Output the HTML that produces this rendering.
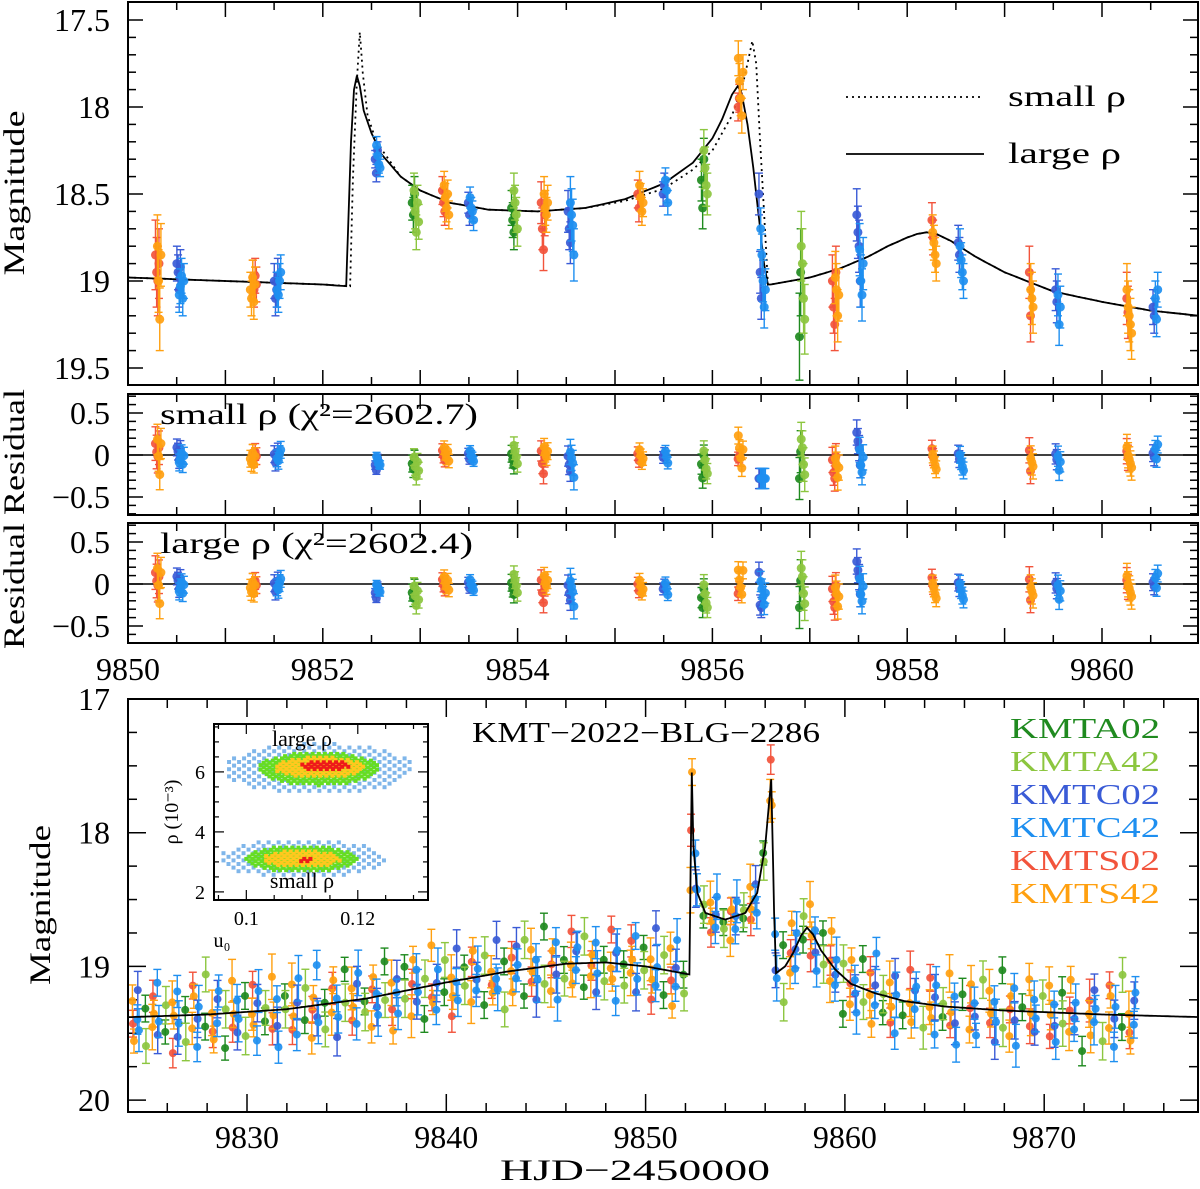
<!DOCTYPE html>
<html><head><meta charset="utf-8"><title>KMT-2022-BLG-2286</title>
<style>
html,body{margin:0;padding:0;background:#fff;}
svg{display:block;font-family:"Liberation Serif",serif;}
</style></head>
<body>
<svg id="fig" xmlns="http://www.w3.org/2000/svg" width="1200" height="1189" viewBox="0 0 1200 1189">
<defs>
<clipPath id="cTop"><rect x="129" y="3" width="1069" height="381"/></clipPath>
<clipPath id="cR1"><rect x="129" y="395" width="1069" height="119"/></clipPath>
<clipPath id="cR2"><rect x="129" y="524" width="1069" height="118"/></clipPath>
<clipPath id="cBot"><rect x="129" y="700" width="1069" height="411"/></clipPath>
<clipPath id="cIn"><rect x="215" y="725" width="212" height="174"/></clipPath>
</defs>
<g id="layer"></g>
</svg>
<script>
// ---------- data ----------
const obsNames = ["KMTA02","KMTA42","KMTC02","KMTC42","KMTS02","KMTS42"];
const obsColors = ["#1f8a1f","#8cc63f","#3a5bd6","#1e8ff0","#f2543c","#ffa010"];

const largeT = [9850,9851,9852,9852.24,9852.26,9852.29,9852.32,9852.35,9852.38,9852.42,9852.5,9852.6,9852.8,9853.0,9853.3,9853.7,9854.2,9854.7,9855.1,9855.5,9855.8,9856.0,9856.1,9856.2,9856.26,9856.3,9856.36,9856.42,9856.48,9856.53,9856.57,9856.6,9857.0,9857.3,9857.6,9857.8,9858.0,9858.1,9858.2,9858.3,9858.45,9858.7,9859.0,9859.5,9860.0,9860.5,9861.0];
const largeM = [18.98,19.0,19.02,19.03,18.7,18.2,17.9,17.82,17.88,18.02,18.15,18.27,18.4,18.48,18.55,18.59,18.6,18.58,18.53,18.44,18.32,18.18,18.07,17.93,17.88,17.92,18.1,18.35,18.65,18.9,19.02,19.02,18.98,18.93,18.86,18.8,18.75,18.73,18.72,18.73,18.77,18.86,18.95,19.06,19.12,19.17,19.2];
const smallT = [9850,9851,9852,9852.28,9852.31,9852.35,9852.38,9852.41,9852.46,9852.55,9852.8,9853.0,9853.3,9853.7,9854.2,9854.7,9855.1,9855.5,9855.8,9856.0,9856.2,9856.3,9856.36,9856.41,9856.45,9856.49,9856.53,9856.57,9856.6,9857.0,9857.3,9857.6,9857.8,9858.0,9858.1,9858.2,9858.3,9858.45,9858.7,9859.0,9859.5,9860.0,9860.5,9861.0];
const smallM = [18.98,19.0,19.02,19.03,18.4,17.85,17.57,17.8,18.05,18.2,18.4,18.48,18.55,18.59,18.6,18.58,18.54,18.47,18.36,18.25,18.05,17.9,17.75,17.62,17.75,18.2,18.6,19.02,19.02,18.98,18.93,18.86,18.8,18.75,18.73,18.72,18.73,18.77,18.86,18.95,19.06,19.12,19.17,19.2];

const topT = [9850.3,9850.32,9850.52,9850.55,9851.3,9851.28,9851.52,9851.55,9852.55,9852.57,9852.93,9852.96,9853.24,9853.27,9853.5,9853.53,9853.95,9853.98,9854.26,9854.29,9854.53,9854.56,9855.24,9855.27,9855.5,9855.53,9855.9,9855.93,9856.27,9856.29,9856.49,9856.52,9856.9,9856.93,9857.25,9857.28,9857.5,9857.53,9858.26,9858.28,9858.53,9858.56,9859.26,9859.28,9859.53,9859.56,9860.26,9860.28,9860.53,9860.56];
const topObs = [4,5,2,3,4,5,2,3,2,3,0,1,4,5,2,3,0,1,4,5,2,3,4,5,2,3,0,1,4,5,2,3,0,1,4,5,2,3,4,5,2,3,4,5,2,3,4,5,2,3];
const topMags = [
 [18.85,18.95,19.0,18.9],[18.8,19.0,19.22,18.85],[18.9,18.95,19.05,18.92],[19.08,19.03,18.97,19.1,19.0],
 [18.98,19.05,18.97,19.02],[19.05,19.1,18.98,19.12,19.02],[19.0,19.1,19.05,18.97],[19.05,19.08,19.0,18.95],
 [18.3,18.38,18.25],[18.22,18.28,18.33,18.35],[18.55,18.62,18.5],[18.48,18.6,18.72,18.55,18.66],
 [18.48,18.55,18.6],[18.45,18.52,18.58,18.5,18.62],[18.55,18.62],[18.52,18.58,18.6,18.65],
 [18.58,18.65,18.72],[18.48,18.55,18.62,18.7],[18.55,18.7,18.82,18.62],[18.5,18.58,18.62,18.55],
 [18.6,18.7,18.78],[18.55,18.62,18.68,18.85],[18.5,18.58],[18.45,18.52,18.6,18.55],
 [18.5,18.45],[18.42,18.48,18.55],[18.42,18.58,18.3],[18.25,18.35,18.45,18.5],
 [18.0,17.95],[17.72,17.85,17.95,18.05,17.8],[18.5,18.95,19.1],[18.7,18.85,19.0,19.15,19.05],
 [19.32,18.95],[18.8,18.9,19.1,19.22],[19.0,19.15,19.25,18.95],[18.98,19.05,19.2,19.08],
 [18.62,18.72,18.8,19.0],[18.82,19.0,19.08,18.9],[18.65,18.75],[18.72,18.78,18.85,18.9],
 [18.78,18.85],[18.8,18.88,18.95,19.0],[18.95,19.2],[19.05,19.1,19.15],
 [19.05,19.12],[19.08,19.25,19.15],[19.1,19.18],[19.05,19.15,19.2,19.25,19.3],
 [19.15,19.2],[19.1,19.22,19.05]];
const topErr = [0.2,0.18,0.1,0.1,0.1,0.1,0.1,0.1,0.05,0.05,0.1,0.1,0.08,0.08,0.06,0.06,0.1,0.1,0.12,0.1,0.12,0.15,0.08,0.08,0.07,0.07,0.12,0.12,0.08,0.1,0.12,0.12,0.25,0.2,0.15,0.15,0.15,0.15,0.1,0.1,0.1,0.1,0.15,0.15,0.12,0.12,0.15,0.15,0.1,0.1];

const botT = [9824,9828,9832,9836,9840,9843,9846,9848,9850,9852.2,9852.25,9852.32,9852.4,9852.6,9853,9854,9855,9855.6,9856,9856.3,9856.45,9856.55,9857,9857.4,9857.8,9858.1,9858.4,9858.8,9859.5,9860.3,9861.5,9863,9865,9868,9873,9878];
const botM = [19.38,19.36,19.32,19.24,19.12,19.04,18.98,18.97,19.0,19.06,18.4,17.55,18.1,18.45,18.6,18.65,18.6,18.45,18.1,17.6,18.6,19.05,19.0,18.9,18.77,18.71,18.76,18.88,19.02,19.13,19.2,19.26,19.3,19.33,19.36,19.38];
const botNights = [9824,9825,9826,9827,9828,9829,9830,9831,9832,9833,9834,9835,9836,9837,9838,9839,9840,9841,9842,9843,9844,9845,9846,9847,9848,9849,9850,9851,9852,9853,9854,9855,9856,9857,9858,9859,9860,9861,9862,9863,9864,9865,9866,9867,9868,9869,9870,9871,9872,9873,9874];
const botObsOrder = [4,5,5,2,3,3,0,1];
const botObsPhase = [0.28,0.25,0.33,0.52,0.5,0.58,0.9,0.93];
const botResid = [0.05,-0.12,0.18,-0.2,0.02,0.1,-0.06,0.22,-0.15,0.08,-0.02,0.14,-0.25,0.04,0.12,-0.08,0.28,-0.1,0.0,0.16,-0.18,0.06,-0.04,0.2,-0.22,0.1,-0.14,0.03,0.24,-0.06,0.09,-0.3,0.13,-0.01,0.19,-0.11,0.07,-0.17,0.26,-0.03,0.11,-0.24,0.01,0.15,-0.09];
const botErrs = [0.1,0.12,0.09,0.14,0.11,0.16,0.1,0.13,0.12,0.17,0.1,0.14];

const topYTicks = [17.5,18,18.5,19,19.5];
const topYLabels = ["17.5","18","18.5","19","19.5"];
const topXTicks = [9850,9852,9854,9856,9858,9860];
const resTicks = [0.5,0,-0.5];
const resLabels = ["0.5","0","\u22120.5"];
const botYTicks = [17,18,19,20];
const botXTicks = [9830,9840,9850,9860,9870];

const inCu = [0.113,0.113,0.113,0.114, 0.110,0.110,0.110,0.1105];
const inCr = [6.1,6.1,6.15,6.2, 3.1,3.1,3.1,3.05];
const inWu = [0.017,0.011,0.008,0.0045, 0.015,0.010,0.007,0.0012];
const inWr = [0.85,0.55,0.35,0.18, 0.65,0.45,0.28,0.1];
const inCol = ["#7fb6ea","#66dd22","#ffc81e","#ee1a1a","#7fb6ea","#66dd22","#ffc81e","#ee1a1a"];

// ---------- scales ----------
const xT = t => 128 + (t - 9850) * 97.4;
const yT = m => 20 + (m - 17.5) * 174;
const yR1 = r => 455 - r * 84;
const yR2 = r => 584 - r * 84;
const xB = t => 247 + (t - 9830) * 19.93;
const yB = m => 699 + (m - 17) * 133.7;
const xI = u => 214 + (u - 0.0942) / 0.0384 * 214;
const yI = r => 900 - (r - 1.73) * 30;

function interp(T, M, t){
  if (t <= T[0]) return M[0];
  for (let i = 1; i < T.length; i++) if (t <= T[i]) return M[i-1] + (M[i]-M[i-1])*(t-T[i-1])/(T[i]-T[i-1]);
  return M[M.length-1];
}

const NS = "http://www.w3.org/2000/svg";
const root = document.getElementById("layer");
function mk(tag, parent, attrs){
  const e = document.createElementNS(NS, tag);
  for (const k in attrs) e.setAttribute(k, attrs[k]);
  parent.appendChild(e);
  return e;
}
function grp(parent, name, clip){
  const g = mk("g", parent, clip ? {"clip-path":"url(#"+clip+")"} : {});
  
  
  return g;
}
function txt(parent, x, y, s, size, anchor, name, extra){
  const ex = extra || {};
  if (ex.textLength) ex.lengthAdjust = "spacingAndGlyphs";
  const e = mk("text", parent, Object.assign({x:x, y:y, "font-size":size, "text-anchor":anchor||"start", fill:"#000"}, ex));
  e.textContent = s;
  
  
  return e;
}
function line(parent, x1, y1, x2, y2, col, w){
  return mk("line", parent, {x1:x1, y1:y1, x2:x2, y2:y2, stroke:col||"#000", "stroke-width":w||1.5});
}
function box(parent, x, y, w, h, name){
  const r = mk("rect", parent, {x:x, y:y, width:w, height:h, fill:"none", stroke:"#000", "stroke-width":2});
  
  
}
function point(parent, x, y, e1, e2, col, r){
  const g = mk("g", parent, {});
  
  
  line(g, x, e1, x, e2, col, 1.4);
  line(g, x-4, e1, x+4, e1, col, 1.4);
  line(g, x-4, e2, x+4, e2, col, 1.4);
  mk("circle", g, {cx:x, cy:y, r:r, fill:col, "fill-opacity":0.92});
}
function pathFrom(T, M, xs, ys, t0, t1, step){
  let d = "";
  const ts = [];
  for (let t = t0; t <= t1; t += step) ts.push(t);
  T.forEach(t => { if (t >= t0 && t <= t1) ts.push(t); });
  ts.sort((a,b)=>a-b);
  ts.forEach((t,i) => { d += (i ? "L" : "M") + xs(t).toFixed(1) + "," + ys(interp(T,M,t)).toFixed(1); });
  return d;
}

// ---------- top panel ----------
const gTopAx = grp(root, "top-panel-axes");
box(gTopAx, 128, 2, 1070, 383, "top-panel-frame");
box(gTopAx, 128, 394, 1070, 121, "residual-small-frame");
box(gTopAx, 128, 523, 1070, 120, "residual-large-frame");
for (let t = 9850; t <= 9861; t += 0.5) {
  const x = xT(t); if (x > 1197) break;
  const L = (t % 1 === 0) ? 15 : 8;
  [[2,385],[394,515],[523,643]].forEach(([a,b]) => { line(gTopAx, x, b, x, b-L); line(gTopAx, x, a, x, a+L); });
}
topXTicks.forEach(t => txt(gTopAx, xT(t), 680, String(t), 32, "middle", "x-tick-label"));
for (let m = 17.4; m <= 19.6; m += 0.1) {
  const y = yT(m); if (y < 3 || y > 384) continue;
  const maj = Math.abs(m*2 - Math.round(m*2)) < 1e-6;
  const L = maj ? 15 : 8;
  line(gTopAx, 128, y, 128+L, y); line(gTopAx, 1198, y, 1198-L, y);
}
topYTicks.forEach((m,i) => txt(gTopAx, 110, yT(m)+11, topYLabels[i], 32, "end", "y-tick-label"));
[[yR1,394,515],[yR2,523,643]].forEach(([f,a,b]) => {
  for (let r = -0.7; r <= 0.7; r += 0.1) {
    const y = f(r); if (y <= a+1 || y >= b-1) continue;
    const maj = Math.abs(r*2 - Math.round(r*2)) < 1e-6;
    const L = maj ? 15 : 8;
    line(gTopAx, 128, y, 128+L, y); line(gTopAx, 1198, y, 1198-L, y);
  }
  resTicks.forEach((r,i) => txt(gTopAx, 110, f(r)+11, resLabels[i], 32, "end", "residual-tick-label"));
  line(gTopAx, 128, f(0), 1198, f(0), "#000", 1.5);
});
txt(gTopAx, 0, 0, "Magnitude", 30, "middle", "top-y-axis-title", {transform:"translate(24,193) rotate(-90)", textLength:165});
txt(gTopAx, 0, 0, "Residual", 30, "middle", "residual-small-y-title", {transform:"translate(24,452) rotate(-90)", textLength:126});
txt(gTopAx, 0, 0, "Residual", 30, "middle", "residual-large-y-title", {transform:"translate(24,586) rotate(-90)", textLength:126});
txt(gTopAx, 160, 424, "small \u03c1  (\u03c7\u00b2=2602.7)", 30, "start", "residual-small-label", {textLength:318});
txt(gTopAx, 160, 553, "large \u03c1  (\u03c7\u00b2=2602.4)", 30, "start", "residual-large-label", {textLength:313});

const gTopM = grp(root, "top-model-curves", "cTop");
const pS = mk("path", gTopM, {d:pathFrom(smallT, smallM, xT, yT, 9850, 9861, 0.05), fill:"none", stroke:"#000", "stroke-width":1.8, "stroke-dasharray":"2,4"});


const pL = mk("path", gTopM, {d:pathFrom(largeT, largeM, xT, yT, 9850, 9861, 0.05), fill:"none", stroke:"#000", "stroke-width":1.8});



const gTopD = grp(root, "top-data-points", "cTop");
const gR1 = grp(root, "residual-small-points", "cR1");
const gR2 = grp(root, "residual-large-points", "cR2");
const clampR = r => Math.max(-0.28, Math.min(0.28, r));
topT.forEach((t0, c) => {
  const col = obsColors[topObs[c]];
  const e = topErr[c];
  topMags[c].forEach((m, k) => {
    const t = t0 + (k - (topMags[c].length-1)/2) * 0.012;
    const x = xT(t);
    point(gTopD, x, yT(m), yT(m-e), yT(m+e), col, 4.5);
    const rs = clampR(m - interp(smallT, smallM, t));
    const rl = clampR(m - interp(largeT, largeM, t));
    point(gR1, x, yR1(-rs), yR1(-rs-e), yR1(-rs+e), col, 4.5);
    point(gR2, x, yR2(-rl), yR2(-rl-e), yR2(-rl+e), col, 4.5);
  });
});

const gLeg = grp(root, "model-legend");
const l1 = line(gLeg, 846, 97, 984, 97, "#000", 1.8); l1.setAttribute("stroke-dasharray","2,4");

line(gLeg, 846, 154, 984, 154, "#000", 1.8);
txt(gLeg, 1008, 106, "small \u03c1", 30, "start", "legend-small-rho", {textLength:118});
txt(gLeg, 1008, 163, "large \u03c1", 30, "start", "legend-large-rho", {textLength:113});

// ---------- bottom panel ----------
const gBotAx = grp(root, "bottom-panel-axes");
box(gBotAx, 128, 699, 1070, 413, "bottom-panel-frame");
for (let t = 9824; t <= 9878; t += 2) {
  const x = xB(t); if (x < 129 || x > 1197) continue;
  const L = (t % 10 === 0) ? 18 : 9;
  line(gBotAx, x, 1112, x, 1112-L); line(gBotAx, x, 699, x, 699+L);
}
botXTicks.forEach(t => txt(gBotAx, xB(t), 1148, String(t), 32, "middle", "bottom-x-tick-label"));
for (let m = 17; m <= 20.05; m += 0.25) {
  const y = yB(m); if (y > 1111) continue;
  const L = (Math.abs(m - Math.round(m)) < 1e-6) ? 18 : 9;
  line(gBotAx, 128, y, 128+L, y); line(gBotAx, 1198, y, 1198-L, y);
}
botYTicks.forEach(m => txt(gBotAx, 110, yB(m)+11, String(m), 32, "end", "bottom-y-tick-label"));
txt(gBotAx, 0, 0, "Magnitude", 30, "middle", "bottom-y-axis-title", {transform:"translate(50,905) rotate(-90)", textLength:160});
txt(gBotAx, 635, 1180, "HJD\u22122450000", 30, "middle", "x-axis-title", {textLength:270});
txt(gBotAx, 646, 742, "KMT\u22122022\u2212BLG\u22122286", 28, "middle", "chart-title", {textLength:348});

const gBotD = grp(root, "bottom-data-points", "cBot");
let ri = 0;
botNights.forEach((n, ni) => {
  botObsOrder.forEach((o, j) => {
    if ((o === 0 || o === 1) && n > 9860 && (ni + j) % 3 === 0) return;
    const t = n + botObsPhase[j];
    if (t > 9874.6) return;
    const r = botResid[ri % botResid.length];
    const e = botErrs[ri % botErrs.length];
    ri++;
    const m = interp(botT, botM, t) + (t > 9852.2 && t < 9856.6 ? r*0.6 : r);
    point(gBotD, xB(t), yB(m), yB(m-e), yB(m+e), obsColors[o], 4);
  });
});
const gBotM = grp(root, "bottom-model-curve", "cBot");
const pB = mk("path", gBotM, {d:pathFrom(botT, botM, xB, yB, 9824, 9878, 0.1), fill:"none", stroke:"#000", "stroke-width":1.8});



const gObs = grp(root, "observatory-legend");
const legY = [738,771,804,837,870,903];
obsNames.forEach((nm, i) => {
  txt(gObs, 1010, legY[i], nm, 28, "start", "legend-entry", {fill:obsColors[i], textLength:150});
});

// ---------- inset ----------
const gIn = grp(root, "inset-u0-rho");
mk("rect", gIn, {x:214, y:724, width:214, height:176, fill:"#fff", stroke:"none"});
const gInD = grp(gIn, "inset-samples", "cIn");
inCu.forEach((cu, k) => {
  const sparse = (k === 0 || k === 4);
  const du = sparse ? 0.0018 : 0.0011, dr = sparse ? 0.12 : 0.075;
  let row = 0;
  for (let r = inCr[k] - inWr[k]; r <= inCr[k] + inWr[k]; r += dr, row++) {
    for (let u = cu - inWu[k] + (row % 2) * du / 2; u <= cu + inWu[k]; u += du) {
      const q = ((u-cu)/inWu[k])**2 + ((r-inCr[k])/inWr[k])**2;
      if (q > 1) continue;
      const s = mk("rect", gInD, {x:xI(u)-2, y:yI(r)-2, width:4, height:4, fill:inCol[k]});
      
    }
  }
});
box(gIn, 214, 724, 214, 176, "inset-frame");
for (let u = 0.095; u <= 0.132; u += 0.005) {
  const x = xI(u); const L = Math.round(u*1000) % 20 === 0 ? 10 : 5;
  line(gIn, x, 900, x, 900-L, "#000", 1.2); line(gIn, x, 724, x, 724+L, "#000", 1.2);
}
for (let r = 2; r <= 7.5; r += 0.5) {
  const y = yI(r); const L = (r % 2 === 0) ? 10 : 5;
  line(gIn, 214, y, 214+L, y, "#000", 1.2); line(gIn, 428, y, 428-L, y, "#000", 1.2);
}
[0.1,0.12].forEach(u => txt(gIn, xI(u), 925, String(u), 20, "middle", "inset-x-tick-label"));
[2,4,6].forEach(r => txt(gIn, 205, yI(r)+7, String(r), 20, "end", "inset-y-tick-label"));
txt(gIn, 222, 947, "u\u2080", 20, "middle", "inset-x-title");
txt(gIn, 0, 0, "\u03c1 (10\u207b\u00b3)", 20, "middle", "inset-y-title", {transform:"translate(178,812) rotate(-90)"});
txt(gIn, 302, 746, "large \u03c1", 22, "middle", "inset-large-rho-label");
txt(gIn, 302, 888, "small \u03c1", 22, "middle", "inset-small-rho-label");
</script>
</body></html>
